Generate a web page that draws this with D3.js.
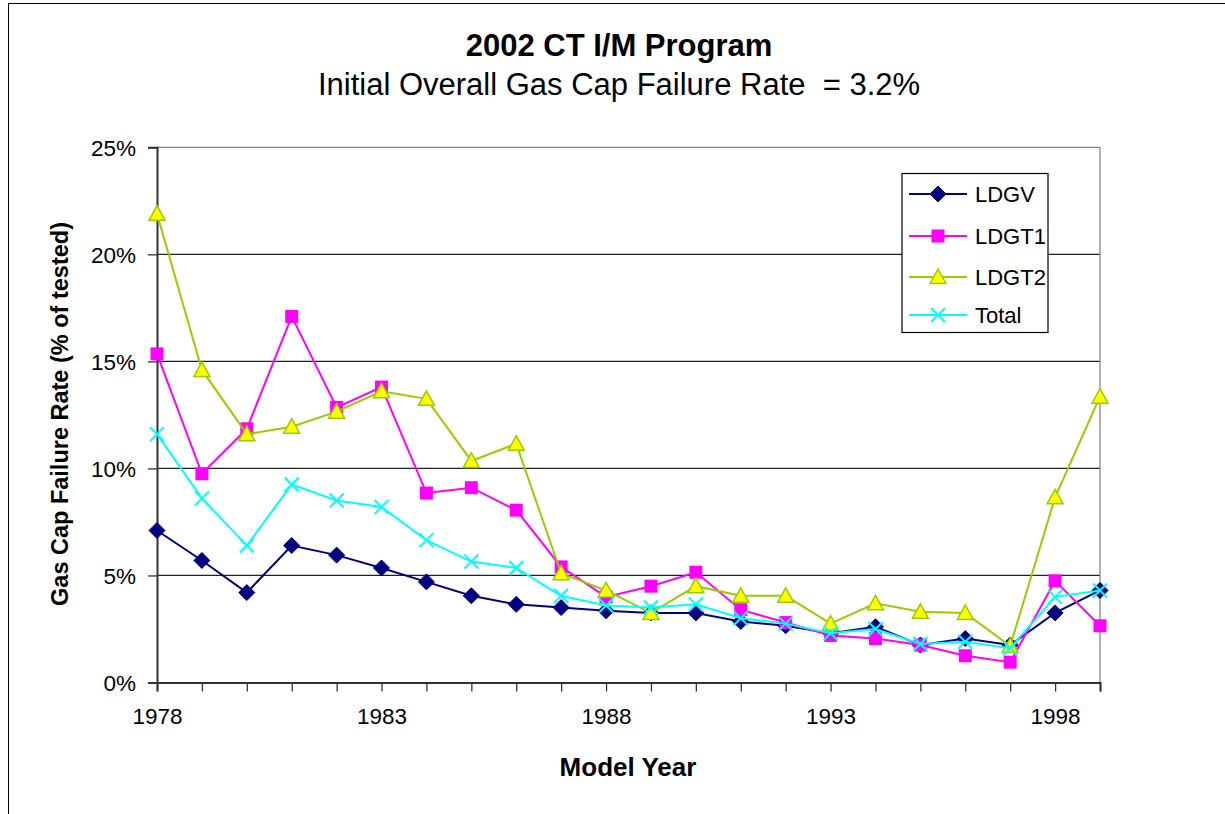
<!DOCTYPE html>
<meta charset="utf-8">
<head>
<style>
body { margin: 0; background: #fff; }
svg text { font-family: "Liberation Sans", Arial, sans-serif; fill: #000; }
</style>
<script src="https://cdnjs.cloudflare.com/ajax/libs/d3/7.8.5/d3.min.js"></script>
</head>
<body>
<div id="vis-container"></div>
</body>
<script>
var years = [1978, 1979, 1980, 1981, 1982, 1983, 1984, 1985, 1986, 1987, 1988,
             1989, 1990, 1991, 1992, 1993, 1994, 1995, 1996, 1997, 1998, 1999]
var yearLabels = [1978, 1983, 1988, 1993, 1998]
var pctTicks = [0, 5, 10, 15, 20, 25]

var ldgv   = [7.1, 5.7, 4.2, 6.4, 5.95, 5.35, 4.7, 4.05, 3.65, 3.5, 3.35,
              3.25, 3.25, 2.85, 2.65, 2.3, 2.6, 1.75, 2.05, 1.75, 3.25, 4.3]
var ldgt1  = [15.35, 9.75, 11.85, 17.1, 12.85, 13.8, 8.85, 9.1, 8.05, 5.4, 4.0,
              4.5, 5.15, 3.4, 2.8, 2.2, 2.05, 1.75, 1.25, 0.95, 4.75, 2.65]
var ldgt2  = [21.9, 14.6, 11.6, 11.95, 12.65, 13.6, 13.25, 10.35, 11.15, 5.1, 4.3,
              3.25, 4.5, 4.05, 4.05, 2.75, 3.7, 3.3, 3.25, 1.7, 8.65, 13.35]
var total  = [11.6, 8.6, 6.4, 9.25, 8.5, 8.2, 6.65, 5.65, 5.35, 4.05, 3.6,
              3.5, 3.65, 3.0, 2.75, 2.3, 2.5, 1.8, 1.9, 1.6, 4.0, 4.3]

var seriesList = [
  {name: 'LDGV', values: ldgv, line: '#000080', marker: 'diamond'},
  {name: 'LDGT1', values: ldgt1, line: '#ff00ff', marker: 'square'},
  {name: 'LDGT2', values: ldgt2, line: '#99cc00', marker: 'triangle'},
  {name: 'Total', values: total, line: '#00ffff', marker: 'cross'}
]

var W = 1225, H = 814
var plot = {left: 157, right: 1100, top: 147.3, bottom: 682.5}

var svg = d3.select('#vis-container').append('svg')
  .attr('width', W).attr('height', H)

// outer chart border (top and left visible)
svg.append('line').attr('x1', 8.5).attr('x2', W).attr('y1', 3.5).attr('y2', 3.5)
  .attr('stroke', '#000').attr('stroke-width', 1)
svg.append('line').attr('x1', 8.5).attr('x2', 8.5).attr('y1', 3.5).attr('y2', H)
  .attr('stroke', '#000').attr('stroke-width', 1)

var x = d3.scalePoint().domain(years).range([plot.left, plot.right])
var y = d3.scaleLinear().domain([0, 25]).range([plot.bottom, plot.top])

// gridlines
svg.append('g').selectAll('line')
  .data(pctTicks.filter(function(d) { return d > 0 }))
  .enter().append('line')
  .attr('x1', plot.left).attr('x2', plot.right)
  .attr('y1', function(d) { return y(d) }).attr('y2', function(d) { return y(d) })
  .attr('stroke', function(d) { return d == 25 ? '#888' : '#222' })
  .attr('stroke-width', 1.3)

// right border of plot area
svg.append('line').attr('x1', plot.right).attr('x2', plot.right)
  .attr('y1', plot.top).attr('y2', plot.bottom)
  .attr('stroke', '#888').attr('stroke-width', 1.3)

// y axis
var yAxis = svg.append('g')
  .attr('transform', 'translate(' + plot.left + ',0)')
  .call(d3.axisLeft(y).tickValues(pctTicks).tickSize(9).tickPadding(12)
    .tickFormat(function(d) { return d + '%' }))
yAxis.select('.domain').attr('stroke', '#333').attr('stroke-width', 2)
yAxis.selectAll('.tick line').attr('stroke', '#333').attr('stroke-width', 1.3)
yAxis.selectAll('text').style('font-size', '22.5px').attr('dy', '0.36em')

// x axis
var xAxis = svg.append('g')
  .attr('transform', 'translate(0,' + plot.bottom + ')')
  .call(d3.axisBottom(x).tickSize(9).tickPadding(17)
    .tickFormat(function(d) { return yearLabels.indexOf(d) > -1 ? d : '' }))
xAxis.select('.domain').attr('stroke', '#333').attr('stroke-width', 2)
xAxis.selectAll('.tick line').attr('stroke', '#333').attr('stroke-width', 1.3)
xAxis.selectAll('text').style('font-size', '22.5px')

// titles
svg.append('text').attr('x', 619).attr('y', 56).attr('text-anchor', 'middle')
  .style('font-size', '31px').style('font-weight', 'bold').text('2002 CT I/M Program')
svg.append('text').attr('x', 619).attr('y', 95).attr('text-anchor', 'middle')
  .style('font-size', '31px').style('white-space', 'pre')
  .text('Initial Overall Gas Cap Failure Rate  = 3.2%')
svg.append('text').attr('x', 628).attr('y', 776).attr('text-anchor', 'middle')
  .style('font-size', '26px').style('font-weight', 'bold').text('Model Year')
svg.append('text').attr('transform', 'translate(68,414) rotate(-90)')
  .attr('text-anchor', 'middle')
  .style('font-size', '23.5px').style('font-weight', 'bold')
  .text('Gas Cap Failure Rate (% of tested)')

var drawMarker = function(g, kind, cx, cy) {
  if (kind == 'diamond') {
    g.append('path').attr('d', 'M' + cx + ',' + (cy - 8) + 'L' + (cx + 8) + ',' + cy +
      'L' + cx + ',' + (cy + 8) + 'L' + (cx - 8) + ',' + cy + 'Z')
      .attr('fill', '#000080').attr('stroke', '#000080').attr('stroke-width', 1)
  } else if (kind == 'square') {
    g.append('rect').attr('x', cx - 6.5).attr('y', cy - 6.5)
      .attr('width', 13).attr('height', 13).attr('fill', '#ff00ff')
  } else if (kind == 'triangle') {
    g.append('path').attr('d', 'M' + cx + ',' + (cy - 8) + 'L' + (cx + 8) + ',' + (cy + 6.5) +
      'L' + (cx - 8) + ',' + (cy + 6.5) + 'Z')
      .attr('fill', '#ffff00').attr('stroke', '#99cc00').attr('stroke-width', 1.5)
  } else {
    g.append('path').attr('d', 'M' + (cx - 7) + ',' + (cy - 7) + 'L' + (cx + 7) + ',' + (cy + 7) +
      'M' + (cx + 7) + ',' + (cy - 7) + 'L' + (cx - 7) + ',' + (cy + 7))
      .attr('stroke', '#00ffff').attr('stroke-width', 2).attr('fill', 'none')
  }
}

var line = d3.line()
  .x(function(d, i) { return x(years[i]) })
  .y(function(d) { return y(d) })

for (var s = 0; s < seriesList.length; s++) {
  var ser = seriesList[s]
  var g = svg.append('g')
  g.append('path').datum(ser.values).attr('d', line)
    .attr('fill', 'none').attr('stroke', ser.line).attr('stroke-width', 2)
  for (var i = 0; i < ser.values.length; i++) {
    drawMarker(g, ser.marker, x(years[i]), y(ser.values[i]))
  }
}

// legend
var legend = svg.append('g')
legend.append('rect').attr('x', 902).attr('y', 173.5).attr('width', 146).attr('height', 159)
  .attr('fill', '#fff').attr('stroke', '#000').attr('stroke-width', 1.2)
var legendY = [194, 236, 277, 315]
for (var s = 0; s < seriesList.length; s++) {
  var ser = seriesList[s]
  legend.append('line').attr('x1', 909).attr('x2', 967)
    .attr('y1', legendY[s]).attr('y2', legendY[s])
    .attr('stroke', ser.line).attr('stroke-width', 2)
  drawMarker(legend, ser.marker, 938, legendY[s])
  legend.append('text').attr('x', 975).attr('y', legendY[s]).attr('dy', '0.36em')
    .style('font-size', '22px').text(ser.name)
}
</script>
</html>
